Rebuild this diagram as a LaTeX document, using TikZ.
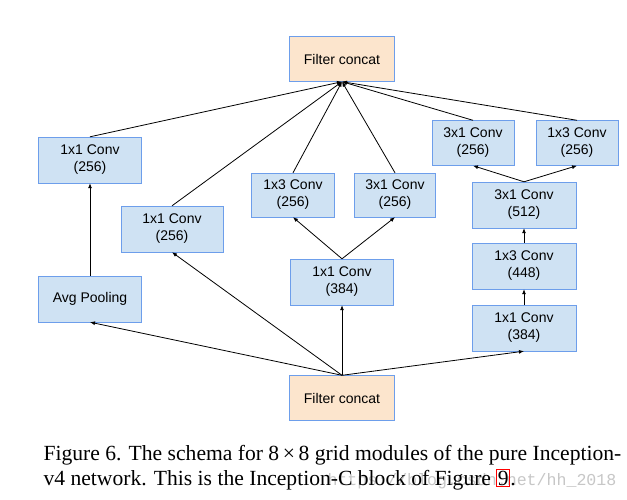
\documentclass[tikz,border=0pt]{standalone}
\usepackage{fontspec}
\setmainfont{Liberation Serif}
\newfontfamily\arialfont{Liberation Sans}
\newfontfamily\markfont{Liberation Mono}
\usetikzlibrary{arrows.meta,positioning}
\definecolor{paleblue}{RGB}{207,226,243}
\definecolor{edgeblue}{RGB}{109,158,235}
\definecolor{peach}{RGB}{252,229,205}
\tikzset{
  >={Latex[length=5pt,width=4pt]},
  conv/.style={draw=edgeblue,fill=#1,minimum width=103pt,minimum height=46pt,
    inner sep=0pt,align=center,font=\arialfont\fontsize{14}{17}\selectfont},
  conv/.default=paleblue,
  concat/.style={conv=peach,minimum width=105pt,minimum height=45pt},
  flow/.style={->,line width=0.8pt,draw=black},
  caption/.style={anchor=base west,font=\fontsize{21.6}{25}\selectfont},
}

\begin{document}
\begin{tikzpicture}[x=1pt,y=-1pt]
  \useasboundingbox[fill=white] (0,0) rectangle (627,500);
  % the two concatenations
  \node[concat] (top) at (342,59) {Filter concat};
  \node[concat] (base) at (342,398) {Filter concat};
  % branch 1: pooling
  \node[conv] (pool) at (90,299) {Avg Pooling};
  \node[conv] (pconv) at (90,160) {1x1 Conv\\(256)};
  % branch 2
  \node[conv,minimum width=102pt] (aconv) at (172,229) {1x1 Conv\\(256)};
  % branch 3
  \node[conv] (bconv) at (342,282) {1x1 Conv\\(384)};
  \node[conv,minimum width=83pt,minimum height=44pt] (bleft) at (293,195) {1x3 Conv\\(256)};
  \node[conv,minimum width=81pt,minimum height=44pt] (bright) at (395,195) {3x1 Conv\\(256)};
  % branch 4
  \node[conv,minimum width=104pt] (cone) at (524,328) {1x1 Conv\\(384)};
  \node[conv,minimum width=104pt] (ctwo) at (524,266) {1x3 Conv\\(448)};
  \node[conv,minimum width=104pt] (cthree) at (524,205) {3x1 Conv\\(512)};
  \node[conv,minimum width=82pt,minimum height=45pt] (cleft) at (473,143) {3x1 Conv\\(256)};
  \node[conv,minimum width=82pt,minimum height=45pt] (cright) at (577,143) {1x3 Conv\\(256)};

  \foreach \n in {pool,aconv,bconv,cone}
    \draw[flow] (base.north) -- (\n.south);
  \draw[flow] (pool) -- (pconv);
  \draw[flow] (bconv.north) -- (bleft.south);
  \draw[flow] (bconv.north) -- (bright.south);
  \draw[flow] (cone) -- (ctwo);
  \draw[flow] (ctwo) -- (cthree);
  \draw[flow] (cthree.north) -- (cleft.south);
  \draw[flow] (cthree.north) -- (cright.south);
  \foreach \n in {pconv,aconv,bleft,bright,cleft,cright}
    \draw[flow] (\n.north) -- (top.south);

  % caption
  \node[anchor=base west,font=\markfont\fontsize{16.6}{20}\selectfont,text=black!22]
    (mark) at (324,485) {https://blog.csdn.net/hh\_2018};
  \node[caption] (capa) at (40,460)
    {Figure 6. The schema for 8\,×\,8 grid modules of the pure Inception-};
  \node[caption] (capb) at (40,485)
    {v4 network. This is the Inception-C block of Figure
     {\setlength{\fboxsep}{0.5pt}\setlength{\fboxrule}{1pt}\color{red}\fbox{\color{black}9}}.};
\end{tikzpicture}
\end{document}
